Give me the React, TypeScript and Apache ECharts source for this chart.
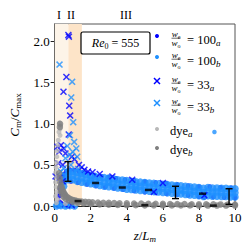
import React, { useEffect, useRef } from "react";
import * as echarts from "echarts";

const FONT = "'Liberation Serif', 'DejaVu Serif', serif";

const xTicks = [0, 2, 4, 6, 8, 10];
const yTicks = [0, 0.5, 1.0, 1.5, 2.0];
const regionBounds = [0, 0.76, 1.51];
const regionLabels = ["I", "II", "III"];

const series100a: [number, number][] = [
  [0.25, 0.12], [0.28, 0.16], [0.3, 0.2], [0.33, 0.24], [0.36, 0.28], [0.4, 0.32], [0.45, 0.36], [0.55, 0.39], [0.65, 0.42], [0.3, 0.35], [0.28, 0.05],
  [0.85, 0.44], [1.1, 0.435], [1.35, 0.42], [1.6, 0.405], [1.9, 0.39], [2.2, 0.375], [2.6, 0.36], [3.0, 0.35], [3.4, 0.335], [3.9, 0.32], [4.4, 0.31], [5.0, 0.295], [5.6, 0.285], [6.2, 0.275], [6.8, 0.26], [7.4, 0.245], [8.0, 0.235], [8.6, 0.235], [9.2, 0.225], [9.8, 0.22],
  [0.9, 0.3], [1.3, 0.285], [1.8, 0.265], [2.3, 0.245], [2.8, 0.23], [3.3, 0.215], [3.8, 0.2], [4.4, 0.185], [5.0, 0.17], [5.6, 0.16], [6.2, 0.15], [6.8, 0.14], [7.4, 0.13], [8.0, 0.115], [8.3, 0.105], [8.8, 0.11], [9.4, 0.105], [10.0, 0.1],
  [0.2, 0.0], [0.7, 0.0],
];

const series100b: [number, number][] = [
  [0.5, 0.36], [0.5, 0.3], [0.5, 0.24],
  [0.75, 0.42], [0.75, 0.37], [0.75, 0.32],
  [1.0, 0.42], [1.0, 0.37], [1.0, 0.32],
  [1.25, 0.41], [1.25, 0.355], [1.25, 0.3],
  [1.5, 0.395], [1.5, 0.34], [1.5, 0.29],
  [1.75, 0.38], [1.75, 0.33], [1.75, 0.28],
  [2.0, 0.37], [2.0, 0.32], [2.0, 0.27],
  [2.25, 0.36], [2.25, 0.31], [2.25, 0.26],
  [2.5, 0.35], [2.5, 0.3], [2.5, 0.25],
  [2.75, 0.345], [2.75, 0.29], [2.75, 0.24],
  [3.0, 0.34], [3.0, 0.285], [3.0, 0.235],
  [3.25, 0.33], [3.25, 0.28], [3.25, 0.23],
  [3.5, 0.32], [3.5, 0.27], [3.5, 0.22],
  [3.75, 0.315], [3.75, 0.265], [3.75, 0.215],
  [4.0, 0.31], [4.0, 0.255], [4.0, 0.205],
  [4.25, 0.3], [4.25, 0.25], [4.25, 0.2],
  [4.5, 0.295], [4.5, 0.245], [4.5, 0.195],
  [4.75, 0.29], [4.75, 0.24], [4.75, 0.19],
  [5.0, 0.285], [5.0, 0.235], [5.0, 0.185],
  [5.25, 0.28], [5.25, 0.23], [5.25, 0.18],
  [5.5, 0.275], [5.5, 0.225], [5.5, 0.175],
  [5.75, 0.27], [5.75, 0.22], [5.75, 0.17],
  [6.0, 0.265], [6.0, 0.215], [6.0, 0.165],
  [6.25, 0.26], [6.25, 0.21], [6.25, 0.16],
  [6.5, 0.255], [6.5, 0.205], [6.5, 0.155],
  [6.75, 0.25], [6.75, 0.2], [6.75, 0.15],
  [7.0, 0.245], [7.0, 0.195], [7.0, 0.145],
  [7.25, 0.24], [7.25, 0.19], [7.25, 0.14],
  [7.5, 0.235], [7.5, 0.185], [7.5, 0.135],
  [7.75, 0.23], [7.75, 0.18], [7.75, 0.13],
  [8.0, 0.225], [8.0, 0.175], [8.0, 0.125],
  [8.25, 0.215], [8.25, 0.165], [8.25, 0.115],
  [8.5, 0.225], [8.5, 0.175], [8.5, 0.125],
  [8.75, 0.22], [8.75, 0.17], [8.75, 0.12],
  [9.0, 0.22], [9.0, 0.17], [9.0, 0.12],
  [9.25, 0.215], [9.25, 0.165], [9.25, 0.115],
  [9.5, 0.215], [9.5, 0.165], [9.5, 0.115],
  [9.75, 0.21], [9.75, 0.16], [9.75, 0.11],
  [10.0, 0.21], [10.0, 0.16], [10.0, 0.11],
  [0.1, 0.0], [0.35, 0.005], [0.6, 0.0], [0.85, 0.005], [1.1, 0.0],
  [8.86, 0.9],
];

const series33a: [number, number][] = [
  [0.76, 2.08], [0.79, 2.06], [0.65, 1.57], [0.49, 1.39], [0.81, 1.22], [0.86, 1.1], [0.78, 0.87],
  [0.15, 0.72], [0.35, 0.74], [0.5, 0.7], [0.25, 0.66], [0.6, 0.64], [0.95, 0.6], [1.1, 0.57],
  [0.2, 0.52], [0.45, 0.5], [1.35, 0.5], [1.5, 0.47], [1.65, 0.44], [1.85, 0.42], [2.1, 0.41], [2.5, 0.39],
  [0.05, 0.36], [0.25, 0.34], [0.45, 0.3], [0.55, 0.02], [0.95, 0.01],
  [3.2, 0.36], [4.3, 0.32], [6.0, 0.28], [8.3, 0.13], [5.5, 0.17],
];

const series33b: [number, number][] = [
  [0.27, 1.72], [0.97, 1.51], [0.92, 1.32], [1.03, 1.02], [0.85, 0.86], [1.08, 0.78], [0.7, 0.73],
  [1.2, 0.7], [0.85, 0.62], [0.6, 0.58], [1.0, 0.66], [1.25, 0.6], [0.9, 0.5], [0.5, 0.46],
  [0.35, 0.42], [1.3, 0.45], [1.45, 0.4], [0.15, 0.02], [0.45, 0.01], [1.05, 0.02],
  [2.0, 0.33], [3.0, 0.27], [4.5, 0.22], [7.0, 0.17],
];

const seriesDyeA: [number, number][] = [
  [0.27, 1.01], [0.33, 0.98], [0.3, 0.94], [0.24, 0.9], [0.3, 0.86], [0.2, 0.8], [0.17, 0.74], [0.14, 0.67],
  [0.12, 0.6], [0.1, 0.53], [0.08, 0.47], [0.06, 0.41], [0.1, 0.35], [0.05, 0.29], [0.08, 0.23], [0.12, 0.17],
  [0.05, 0.12], [0.15, 0.08], [0.1, 0.04], [0.6, 0.03], [1.2, 0.025], [2.0, 0.02], [2.8, 0.018], [3.6, 0.016],
  [4.4, 0.015], [5.2, 0.014], [6.0, 0.013], [6.8, 0.012], [7.6, 0.012], [8.4, 0.011], [9.2, 0.011], [10.0, 0.01],
];

const seriesDyeB: [number, number][] = [
  [0.3, 1.0], [0.29, 0.96],
  [0.25, 0.4], [0.28, 0.34], [0.32, 0.29], [0.36, 0.25], [0.4, 0.22], [0.45, 0.19], [0.5, 0.165], [0.55, 0.145],
  [0.6, 0.13], [0.7, 0.11], [0.8, 0.095], [0.9, 0.082], [1.0, 0.074], [1.1, 0.068], [1.2, 0.063], [1.35, 0.058],
  [1.5, 0.054], [1.7, 0.05], [1.9, 0.047], [2.1, 0.045], [2.4, 0.042], [2.7, 0.04], [3.0, 0.038], [3.3, 0.036],
  [3.6, 0.034], [4.0, 0.032], [4.4, 0.03], [4.8, 0.029], [5.2, 0.028], [5.6, 0.027], [6.0, 0.026], [6.4, 0.025],
  [6.8, 0.024], [7.2, 0.023], [7.6, 0.022], [8.0, 0.021], [8.4, 0.02], [8.8, 0.02], [9.2, 0.019], [9.6, 0.018], [10.0, 0.018],
  [0.3, 0.22], [0.35, 0.18], [0.4, 0.15], [0.5, 0.11], [0.6, 0.09], [0.8, 0.065], [1.0, 0.05], [1.3, 0.04],
  [1.6, 0.032], [2.0, 0.025], [2.5, 0.02], [3.0, 0.015], [3.5, 0.012], [4.0, 0.01], [4.5, 0.01], [5.0, 0.008],
  [5.5, 0.008], [6.0, 0.007], [6.5, 0.007], [7.0, 0.006], [7.5, 0.006], [8.0, 0.005], [8.5, 0.005], [9.0, 0.005], [9.5, 0.005], [10.0, 0.005],
];

const meansBlue: [number, number][] = [[2.27, 0.28], [3.75, 0.225], [5.2, 0.195], [8.2, 0.15]];
const meansDye: [number, number][] = [[1.3, 0.06], [5.0, 0.01], [8.8, 0.005]];
const errorBars: [number, number, number][] = [[0.74, 0.3, 0.54], [6.7, 0.09, 0.24], [9.67, 0.02, 0.21]];

const legendRows = [
  { kind: "dot", color: "#0000ff", num: "100", sub: "a", y: 36 },
  { kind: "dot", color: "#1e90ff", num: "100", sub: "b", y: 57 },
  { kind: "x", color: "#0000ff", num: "33", sub: "a", y: 81 },
  { kind: "x", color: "#1e90ff", num: "33", sub: "b", y: 103 },
];
const dyeRows = [
  { color: "#b8b8b8", sub: "a", y: 129 },
  { color: "#808080", sub: "b", y: 148 },
];

const X_SYMBOL = "path://M0,1.5 L1.5,0 L5,3.5 L8.5,0 L10,1.5 L6.5,5 L10,8.5 L8.5,10 L5,6.5 L1.5,10 L0,8.5 L3.5,5 Z";

const rich = (size: number) => ({
  i: { fontFamily: FONT, fontStyle: "italic", fontSize: size, lineHeight: size + 3, color: "#000" },
  n: { fontFamily: FONT, fontSize: size, lineHeight: size + 3, color: "#000" },
  s: { fontFamily: FONT, fontSize: Math.round(size * 0.7), lineHeight: Math.round(size * 0.55), verticalAlign: "bottom", color: "#000" },
  si: { fontFamily: FONT, fontStyle: "italic", fontSize: Math.round(size * 0.7), lineHeight: Math.round(size * 0.55), verticalAlign: "bottom", color: "#000" },
});

function buildGraphic() {
  const els: any[] = [];
  const regionX = [59, 71, 126];
  regionLabels.forEach((t, k) => {
    els.push({ type: "text", x: regionX[k], y: 15, style: { text: t, fontFamily: FONT, fontSize: 12, fill: "#000", align: "center", verticalAlign: "middle" } });
  });
  els.push({ type: "rect", shape: { x: 81, y: 32, width: 69, height: 22, r: 2 }, style: { fill: "#fff", stroke: "#000", lineWidth: 1.2 }, z: 100 });
  els.push({ type: "text", x: 115.5, y: 43, z: 101, style: { text: "{i|Re}{s|0}{n| = 555}", rich: rich(12), align: "center", verticalAlign: "middle" } });
  legendRows.forEach((r) => {
    if (r.kind === "dot") {
      els.push({ type: "circle", shape: { cx: 157, cy: r.y, r: 2 }, style: { fill: r.color }, z: 100 });
    } else {
      els.push({ type: "line", shape: { x1: 154, y1: r.y - 3, x2: 160, y2: r.y + 3 }, style: { stroke: r.color, lineWidth: 1.5 }, z: 100 });
      els.push({ type: "line", shape: { x1: 154, y1: r.y + 3, x2: 160, y2: r.y - 3 }, style: { stroke: r.color, lineWidth: 1.5 }, z: 100 });
    }
    els.push({ type: "text", x: 176, y: r.y - 2, z: 100, style: { text: "{i|w}{s|e}", rich: rich(9), align: "center", verticalAlign: "middle" } });
    els.push({ type: "line", shape: { x1: 171.5, y1: r.y + 2.2, x2: 180.5, y2: r.y + 2.2 }, style: { stroke: "#000", lineWidth: 0.6 }, z: 100 });
    els.push({ type: "text", x: 176, y: r.y + 6.5, z: 100, style: { text: "{i|w}{s|o}", rich: rich(9), align: "center", verticalAlign: "middle" } });
    els.push({ type: "text", x: 187, y: r.y + 3.5, z: 100, style: { text: `{n|= ${r.num}}{si|${r.sub}}`, rich: rich(12.5), align: "left", verticalAlign: "middle" } });
  });
  dyeRows.forEach((r) => {
    els.push({ type: "circle", shape: { cx: 157, cy: r.y, r: 2 }, style: { fill: r.color }, z: 100 });
    els.push({ type: "text", x: 170, y: r.y + 1.5, z: 100, style: { text: `{n|dye}{si|${r.sub}}`, rich: rich(12.5), align: "left", verticalAlign: "middle" } });
  });
  return els;
}

export default function App() {
  const ref = useRef<HTMLDivElement>(null);
  useEffect(() => {
    const chart = echarts.init(ref.current!, null, { renderer: "svg" });
    const option: any = {
      animation: false,
      backgroundColor: "#fff",
      grid: { left: 50, right: 16, top: 24, bottom: 46, show: true, borderColor: "#555", borderWidth: 1 },
      xAxis: {
        type: "value", min: 0, max: 10, interval: 2,
        axisLine: { lineStyle: { color: "#222", width: 1 } },
        axisTick: { show: true, length: 4, inside: false, lineStyle: { color: "#222" } },
        splitLine: { show: false },
        axisLabel: { fontFamily: FONT, fontSize: 13, color: "#000", margin: 5, customValues: xTicks },
        name: "{i|z}{n|/}{i|L}{si|m}",
        nameLocation: "middle", nameGap: 21,
        nameTextStyle: { rich: rich(13) },
      },
      yAxis: {
        type: "value", min: 0, max: 2.214, interval: 0.5,
        axisLine: { show: true, lineStyle: { color: "#222", width: 1 } },
        axisTick: { show: true, length: 4, inside: false, lineStyle: { color: "#222" }, customValues: yTicks },
        splitLine: { show: false },
        axisLabel: { fontFamily: FONT, fontSize: 13, color: "#000", margin: 5, customValues: yTicks, formatter: (v: number) => v.toFixed(1) },
        name: "{i|C}{s|m}{n|/}{i|C}{s|max}",
        nameLocation: "middle", nameGap: 29, nameRotate: 90,
        nameTextStyle: { rich: rich(13) },
      },
      series: [
        {
          type: "line", data: [], z: 1, silent: true,
          markArea: {
            silent: true,
            data: [
              [{ xAxis: regionBounds[0], itemStyle: { color: "#fdf4e8" } }, { xAxis: regionBounds[1] }],
              [{ xAxis: regionBounds[1], itemStyle: { color: "#fde4c8" } }, { xAxis: regionBounds[2] }],
            ],
          },
        },
        { name: "100a", type: "scatter", data: series100a, symbol: "circle", symbolSize: 5, itemStyle: { color: "#0000ff" }, z: 2 },
        {
          name: "100b", type: "scatter", data: series100b, symbol: "circle",
          symbolSize: (v: number[]) => (v[1] > 0.6 ? 4.5 : 7.5),
          itemStyle: { color: "#1e90ff" }, z: 3,
        },
        { name: "33a", type: "scatter", data: series33a, symbol: X_SYMBOL, symbolSize: 7, itemStyle: { color: "#0000ff" }, z: 4 },
        { name: "33b", type: "scatter", data: series33b, symbol: X_SYMBOL, symbolSize: 7, itemStyle: { color: "#1e90ff" }, z: 5 },
        { name: "dyea", type: "scatter", data: seriesDyeA, symbol: "circle", symbolSize: 5, itemStyle: { color: "#b8b8b8" }, z: 6 },
        { name: "dyeb", type: "scatter", data: seriesDyeB, symbol: "circle", symbolSize: 6.5, itemStyle: { color: "#808080" }, z: 7 },
        { name: "meansBlue", type: "scatter", data: meansBlue, symbol: "rect", symbolSize: [7, 2.5], itemStyle: { color: "#000" }, z: 8 },
        { name: "meansDye", type: "scatter", data: meansDye, symbol: "rect", symbolSize: [7, 2.5], itemStyle: { color: "#000" }, z: 8 },
        {
          name: "err", type: "custom", z: 9, data: errorBars,
          renderItem: (params: any, api: any) => {
            const x = api.value(0);
            const lo = api.coord([x, api.value(1)]);
            const hi = api.coord([x, api.value(2)]);
            const st = { stroke: "#000", lineWidth: 1.4 };
            return {
              type: "group",
              children: [
                { type: "line", shape: { x1: lo[0], y1: lo[1], x2: hi[0], y2: hi[1] }, style: st },
                { type: "line", shape: { x1: lo[0] - 3.5, y1: lo[1], x2: lo[0] + 3.5, y2: lo[1] }, style: st },
                { type: "line", shape: { x1: hi[0] - 3.5, y1: hi[1], x2: hi[0] + 3.5, y2: hi[1] }, style: st },
              ],
            };
          },
        },
      ],
      graphic: buildGraphic(),
    };
    chart.setOption(option);
    return () => chart.dispose();
  }, []);
  return <div ref={ref} style={{ position: "absolute", left: 0, top: 0, width: 251, height: 252 }} />;
}
